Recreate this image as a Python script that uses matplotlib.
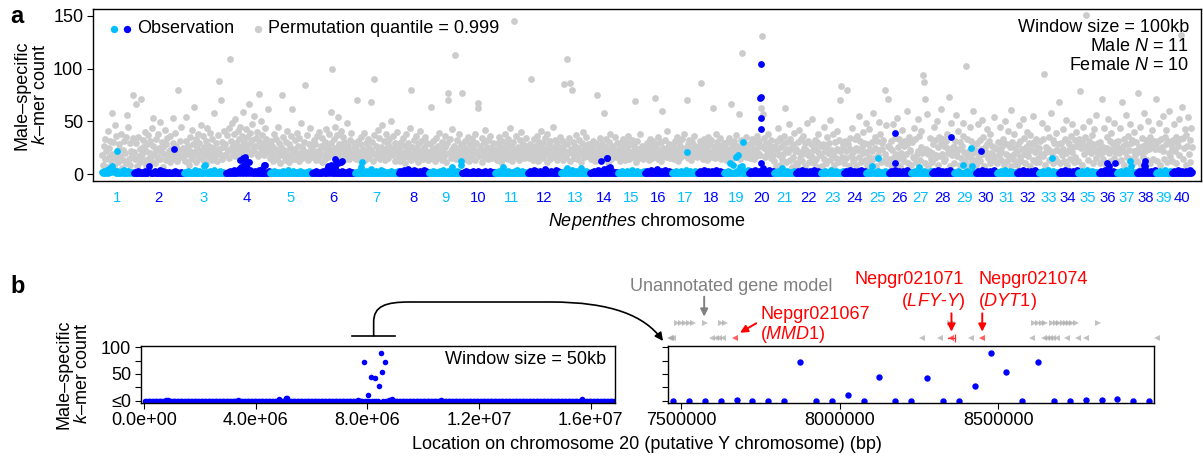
import numpy as np
import matplotlib.pyplot as plt
import matplotlib.transforms as mtrans
from matplotlib.patches import FancyArrowPatch
from matplotlib.path import Path

plt.rcParams['font.family'] = ['Liberation Sans', 'DejaVu Sans']
plt.rcParams['mathtext.fontset'] = 'custom'
plt.rcParams['mathtext.rm'] = 'Liberation Sans'
plt.rcParams['mathtext.it'] = 'Liberation Sans:italic'
plt.rcParams['font.size'] = 13
plt.rcParams['axes.linewidth'] = 1.0

LIGHT = '#00BFFF'
DARK = '#0000FF'
GRAY = '#CCCCCC'

# ---- panel a: genome scan, 100 kb windows ----
chrom_len = [21.1, 34.0, 28.6, 29.9, 29.2, 28.6, 29.9, 20.4, 23.1, 22.4,
             22.4, 22.4, 19.7, 19.0, 18.4, 18.4, 17.7, 17.7, 17.0, 17.0,
             15.0, 17.0, 15.0, 15.6, 15.0, 15.0, 14.3, 15.0, 15.0, 14.3,
             13.6, 15.0, 13.6, 12.9, 14.3, 12.2, 13.6, 12.9, 10.9, 14.3]  # Mb

# permutation quantile (0.999) per window, listed per chromosome
perm_q = [
    "18 9 27 14 33 22 7 41 16 25 31 12 58 19 30 8 46 36 15 21 11 24 28 17 38 6 23 13 31 20 10 35 56 45 14 29 9 22 18 34",
    "75 21 14 66 29 8 35 17 24 11 71 19 32 26 13 40 22 9 28 37 15 20 31 12 44 27 53 18 10 33 23 16 38 25 14 49 21 30 7 26 19 42 13 28 34 17 22 11 36 24 18 53 29 15 39 20 27 12 80 23 31 16 45 19 25",
    "16 24 12 31 54 19 27 9 35 22 14 42 28 17 64 21 33 11 25 38 15 29 19 46 23 13 36 26 18 31 10 44 22 27 16 39 20 13 33 25 58 17 29 21 12 37 24 88 19 70 30 14 26 41 18",
    "28 19 37 23 44 15 109 31 26 48 20 38 17 52 29 24 41 33 18 45 27 36 22 59 30 16 43 25 35 21 66 28 39 19 47 32 24 55 27 34 20 40 17 76 31 26 50 22 37 29 18 44 25 33 21 62 28",
    "22 15 31 19 27 12 38 24 17 33 14 45 21 29 10 26 75 18 35 23 13 30 20 41 16 28 11 25 36 19 62 24 14 32 22 17 39 27 12 34 20 48 15 26 23 30 18 84 21 37 13 28 19 44 24 16",
    "24 17 32 20 28 13 36 22 15 40 19 27 11 34 25 18 30 14 43 21 26 16 38 23 59 29 100 19 33 25 45 18 37 54 22 28 15 41 26 20 35 13 30 24 17 48 21 27 14 32 19 39 23 16 29",
    "19 26 14 70 22 31 16 28 11 35 20 24 17 39 13 29 21 33 15 25 18 68 23 30 12 37 90 19 27 16 42 22 34 14 26 20 46 17 31 24 13 38 21 28 15 33 19 50 25 18 36 22 29 12 27 40 20",
    "17 25 12 30 21 14 34 19 27 10 38 23 16 29 20 44 13 80 26 18 32 22 15 36 24 11 28 19 41 16 31 23 14 26 35 18 22 29 13",
    "20 14 28 18 64 23 31 16 25 12 34 21 27 15 39 19 24 13 30 22 17 36 26 11 29 77 70 20 33 15 24 43 18 27 21 113 14 32 25 17 38 22 28 19",
    "77 18 26 14 31 21 16 35 23 12 28 19 33 15 25 20 38 13 29 22 63 67 17 27 24 11 34 19 30 16 42 22 26 14 32 20 36 18 25 15 29 23 21",
    "16 24 13 29 20 35 18 26 11 31 22 15 38 25 19 28 14 33 21 44 17 27 12 30 24 145 20 36 16 26 23 13 32 19 40 22 28 15 25 18 34 21 27",
    "21 15 28 18 90 25 13 33 20 27 16 36 23 12 30 19 26 41 15 29 22 17 34 24 11 38 20 28 14 31 23 18 45 26 16 32 21 13 29 24 19 35 22",
    "18 26 13 31 85 22 16 28 109 20 34 12 86 24 80 19 30 15 27 21 37 14 25 18 32 23 11 29 20 40 16 26 22 35 17 28 24 19",
    "20 14 27 18 31 23 12 29 16 75 21 25 13 34 19 28 22 15 58 26 17 33 24 11 30 20 38 14 27 21 25 18 35 16 29 22",
    "17 24 12 29 20 15 33 22 26 13 30 18 25 36 14 28 21 19 32 16 23 27 69 11 31 20 24 15 38 22 18 27 14 25 21",
    "22 16 29 19 26 13 33 21 27 15 31 24 18 72 20 28 14 35 23 17 30 12 60 25 19 32 22 16 41 26 20 28 15 24 18",
    "19 27 14 31 22 17 35 24 12 29 20 26 16 33 23 18 38 21 25 70 28 15 32 19 24 13 30 22 36 17 27 21 16 26",
    "24 17 31 20 86 27 14 33 22 18 29 25 13 35 21 28 16 32 19 63 26 23 15 38 20 30 17 27 22 34 14 25 19 29",
    "18 26 13 30 21 16 34 24 19 66 28 22 15 31 25 20 37 17 27 23 57 14 32 26 115 19 29 21 35 16 24 20 28",
    "21 15 28 19 33 24 14 30 22 17 36 26 20 31 18 27 63 131 57 25 34 16 29 23 19 38 21 27 15 32 24 18 26",
    "12 27 8 31 23 44 18 34 9 26 14 29 19 36 63 24 11 30 21 47 13 33 25 7 28 16 39 22 10",
    "24 9 30 21 42 15 33 12 19 36 25 8 29 23 48 18 31 11 20 28 16 52 23 10 32 25 14 30 21 38 7 18 27",
    "19 8 28 14 45 22 10 35 25 20 29 13 51 23 18 38 9 21 30 15 41 24 11 32 22 70 83 16 28",
    "26 10 31 22 15 80 28 8 34 24 17 44 21 12 14 33 25 9 36 23 55 16 31 11 26 40 20 29 13 48",
    "21 9 28 16 43 24 12 30 22 58 15 35 25 8 31 18 49 23 38 11 29 24 32 13 80 19 46 10 27",
    "71 14 25 9 31 23 47 16 34 11 19 53 26 14 33 8 20 29 42 17 27 12 31 19 60 28 10 35 22",
    "23 9 30 16 44 15 33 11 19 52 22 36 13 26 41 20 94 87 10 71 24 57 19 8 22 34 14",
    "20 11 28 45 32 15 18 50 26 9 35 17 29 62 19 33 12 27 14 31 25 38 20 73 8 23 48 18 26",
    "26 10 31 56 22 17 41 24 9 30 15 27 48 36 21 12 102 18 33 8 22 45 16 31 11 60 20 27 13",
    "22 9 29 47 17 32 12 24 51 19 35 8 26 21 43 28 15 31 10 38 20 27 18 54 14 25 11",
    "24 10 30 18 45 22 13 27 33 9 29 50 19 28 12 41 17 26 8 61 30 14 38 19 25 11",
    "21 9 28 46 16 31 12 24 52 19 34 10 26 22 40 17 29 8 37 23 28 13 55 30 21 11 33 26 15",
    "25 11 31 19 48 17 33 95 9 26 21 44 24 13 35 22 58 20 10 32 29 15 39 23 12 28",
    "22 68 10 29 18 43 24 12 33 20 51 9 30 23 28 14 36 21 47 26 11 32 16 40 27",
    "28 12 33 79 25 9 30 45 19 27 35 151 22 13 31 50 26 20 37 10 28 43 24 15 56 21 29",
    "24 10 30 19 71 14 26 44 22 9 35 25 52 20 31 12 39 23 28 15 48 21 30",
    "26 11 31 20 44 24 13 68 27 9 33 21 56 28 16 36 23 47 14 29 32 10 40 22 18 30",
    "23 12 77 26 45 21 9 34 27 16 58 22 32 13 28 50 24 35 10 29 42 26 14 31 24",
    "27 71 12 31 48 24 9 33 26 55 22 14 35 28 42 11 31 20 60 17 28",
    "25 12 32 47 22 35 10 30 27 52 18 33 132 64 14 34 25 43 9 37 27 54 19 32 11 44 26",
]

# observed male-specific k-mer counts per window (one digit per window)
obs_base = [
    "2131241562843213121231412132121",
    "12113121121311282111231121411311211211121312111211",
    "121131211214111312118912113121412111311211",
    "11213121413125176198164143121312141151191213",
    "1211312112111312114121131211211312111211312",
    "112131211213115816914171312113121121311211",
    "12113171211312115121131211413121121131211213",
    "131214131513121413121312141312",
    "1211312112131141211312117121131219",
    "112131211213121131211213121131212",
    "121131217121131211213141211312112",
    "113121413121312115131213121141312",
    "12113161211412131211612113121",
    "1121312141213151216171312112",
    "121131211312114121131211213",
    "113121412131512131214121312",
    "12113121131211412131211312",
    "11312141213121312141213121",
    "1211312119121312718131214",
    "1131214121312161312141213",
    "1211312161211312112131",
    "1131214121312131214121312",
    "1211312114121131211213",
    "11312141213121312141213",
    "1211318121131211213121",
    "1131214121312131214121",
    "121131217121131211213",
    "1131214121312131214121",
    "1211312119121312118121",
    "113121412131213121412",
    "12113121412113121121",
    "1131214121312131214121",
    "12113121141211312112",
    "1131214121312131214",
    "121131211412113121121",
    "113121412181213121",
    "12113121141211812112",
    "1131214181312131214",
    "1211312114121131",
    "113121412131213121412",
]

# windows with counts >= 9: (chromosome, position within chromosome in Mb, count)
obs_peaks = [
    (1, 10.5, 22), (2, 27.9, 24),
    (4, 10.2, 13), (4, 12.0, 15), (4, 13.5, 16), (4, 14.5, 12), (4, 16.0, 11), (4, 26.8, 9),
    (6, 15.7, 14), (6, 16.5, 12), (6, 17.5, 10), (6, 19.5, 11), (6, 20.5, 12),
    (7, 5.4, 11), (9, 22.6, 12),
    (14, 7.5, 12), (14, 11.4, 15), (14, 11.9, 15),
    (17, 10.2, 21),
    (19, 4.1, 10), (19, 8.2, 16), (19, 9.5, 18), (19, 12.9, 30),
    (20, 7.85, 72), (20, 8.05, 10), (20, 8.15, 43), (20, 8.35, 53), (20, 8.45, 104), (20, 8.55, 73),
    (25, 8.2, 15), (26, 4.6, 39), (26, 4.8, 10), (28, 13.4, 35), (29, 12.3, 25), (30, 4.1, 22),
    (33, 9.5, 15), (36, 6.1, 10), (36, 11.5, 10), (37, 9.5, 12), (38, 5.4, 9), (38, 6.1, 12),
]

# ---- panel b: chromosome 20, 50 kb windows ----
chr20_bg = ("0000000000 0000020100 0000000000 0000000000 0000000000 "
            "0000000000 0000000100 0000000000 0000000000 0000003000 "
            "0540000000 0000000000 0000000000 0000000000 0000000000 "
            "0000000000 0000000000 0000000000 0000000000 0000000000 "
            "0000000000 0010000000 0000000000 0000000000 0000000000 "
            "0000000000 0000000000 0000000000 0000000000 0000000000 "
            "0000000000 0003000000 0000000000 0000000")
zoom_first = 149  # first 50 kb window shown in the enlarged view
zoom_counts = [0, 0, 0, 0, 1, 0, 0, 0, 72, 0, 0, 11, 0, 44, 0, 0, 43, 0, 0, 28,
               89, 53, 0, 73, 0, 0, 1, 1, 3, 0, 0]
zoom_range = (7.46e6, 8.99e6)

# gene models (Mb)
genes_fwd = [7.488, 7.500, 7.512, 7.524, 7.539, 7.575, 7.625, 7.640, 8.347, 8.361,
             8.612, 8.624, 8.636, 8.648, 8.670, 8.682, 8.692, 8.703, 8.712, 8.723,
             8.733, 8.745, 8.815]
genes_rev = [7.465, 7.470, 7.474, 7.597, 7.609, 7.621, 7.633, 8.259, 8.316, 8.413,
             8.606, 8.642, 8.654, 8.663, 8.672, 8.684, 8.715, 8.751, 8.775, 8.998]
genes_red = [7.669, 8.352, 8.449]

W, H = 1203, 461
fig = plt.figure(figsize=(W / 100, H / 100), dpi=100)


def fp(x, y):
    return (x / W, 1 - y / H)


# ================= panel a =================
ax = fig.add_axes([93 / W, 1 - 181 / H, 1108 / W, 172 / H])
lens = np.array(chrom_len)
starts = np.concatenate([[0], np.cumsum(lens)[:-1]])
perm_vals = [np.array(s.split(), float) for s in perm_q]
obs_vals = [np.array([int(c) for c in s], float) for s in obs_base]
MS = 4.9

for i, L in enumerate(lens):
    g = perm_vals[i]
    xg = starts[i] + (np.arange(len(g)) + 0.5) / len(g) * L
    ax.plot(xg, g, 'o', ms=MS, mew=0, color=GRAY, zorder=1)
for i, L in enumerate(lens):
    o = obs_vals[i]
    xo = starts[i] + (np.arange(len(o)) + 0.5) / len(o) * L
    ax.plot(xo, o, 'o', ms=MS, mew=0, color=LIGHT if i % 2 == 0 else DARK, zorder=2)
for c, pos, v in obs_peaks:
    ax.plot(starts[c - 1] + pos, v, 'o', ms=MS, mew=0,
            color=LIGHT if (c - 1) % 2 == 0 else DARK, zorder=3)

ax.set_xlim(-6.1, 747.3)
ax.set_ylim(-6.6, 156.4)
ax.set_yticks([0, 50, 100, 150])
ax.set_xticks([])
ax.tick_params(axis='y', direction='out', length=4, width=0.8, pad=3, labelsize=13)

blend = mtrans.blended_transform_factory(ax.transData, ax.transAxes)
for i, L in enumerate(lens):
    ax.text(starts[i] + L / 2, -0.099, str(i + 1), transform=blend, ha='center',
            va='center', fontsize=10.7, color=LIGHT if i % 2 == 0 else DARK)

# legend
ax.plot([0.019], [0.884], 'o', ms=5.3, mew=0, color=LIGHT, transform=ax.transAxes)
ax.plot([0.0307], [0.884], 'o', ms=5.3, mew=0, color=DARK, transform=ax.transAxes)
ax.text(0.0397, 0.884, 'Observation', transform=ax.transAxes, va='center', fontsize=13)
ax.plot([0.1489], [0.884], 'o', ms=5.3, mew=0, color=GRAY, transform=ax.transAxes)
ax.text(0.1579, 0.884, 'Permutation quantile = 0.999', transform=ax.transAxes,
        va='center', fontsize=13)

ax.text(0.989, 0.891, 'Window size = 100kb', transform=ax.transAxes, ha='right', va='center')
ax.text(0.989, 0.781, r'Male $\mathit{N}$ = 11', transform=ax.transAxes, ha='right', va='center')
ax.text(0.989, 0.674, r'Female $\mathit{N}$ = 10', transform=ax.transAxes, ha='right', va='center')

fig.text(*fp(647, 221), r'$\mathit{Nepenthes}$ chromosome', ha='center', va='center', fontsize=13)
fig.text(*fp(31, 95), 'Male–specific\n$\\mathit{k}$–mer count', rotation=90, ha='center',
         va='center', multialignment='center', linespacing=1.1, fontsize=13)
fig.text(*fp(10, 23), 'a', fontsize=17, fontweight='bold', va='baseline')

# ================= panel b, left =================
bg = np.array([int(c) for c in chr20_bg.replace(' ', '')], float)
counts20 = bg.copy()
counts20[zoom_first:zoom_first + len(zoom_counts)] = zoom_counts
pos20 = 0.025e6 + 0.05e6 * np.arange(len(counts20))

axl = fig.add_axes([140.7 / W, 1 - 402.7 / H, 474.3 / W, 57 / H])
axl.plot(pos20, counts20, 'o', ms=4.0, mew=0, color=DARK)
axl.set_xlim(-1.2e5, 1.687e7)
axl.set_ylim(-4, 103)
axl.set_yticks([0, 25, 50, 75, 100])
axl.set_yticklabels(['≤0', '', '50', '', '100'])
axl.set_xticks([0, 4e6, 8e6, 1.2e7, 1.6e7])
axl.set_xticklabels(['0.0e+00', '4.0e+06', '8.0e+06', '1.2e+07', '1.6e+07'])
axl.tick_params(direction='out', length=4, width=0.8, pad=3, labelsize=13)
axl.text(0.981, 0.75, 'Window size = 50kb', transform=axl.transAxes, ha='right', va='center')

# zoom bracket
bl = mtrans.blended_transform_factory(axl.transData, axl.transAxes)
mid = (zoom_range[0] + zoom_range[1]) / 2
axl.plot([zoom_range[0], zoom_range[1]], [1.175, 1.175], color='k', lw=1.2,
         transform=bl, clip_on=False)

fig.text(*fp(73, 374), 'Male–specific\n$\\mathit{k}$–mer count', rotation=90, ha='center',
         va='center', multialignment='center', linespacing=1.1, fontsize=13)
fig.text(*fp(10, 293), 'b', fontsize=17, fontweight='bold', va='baseline')
fig.text(*fp(647, 444), 'Location on chromosome 20 (putative Y chromosome) (bp)',
         ha='center', va='center', fontsize=13)

# ================= panel b, right =================
axr = fig.add_axes([668.3 / W, 1 - 402.7 / H, 485.7 / W, 57 / H])
zpos = pos20[zoom_first:zoom_first + len(zoom_counts)]
axr.plot(zpos, zoom_counts, 'o', ms=4.6, mew=0, color=DARK)
axr.set_xlim(*zoom_range)
axr.set_ylim(-4, 103)
axr.set_yticks([0, 25, 50, 75, 100])
axr.set_yticklabels([])
axr.set_xticks([7.5e6, 8.0e6, 8.5e6])
axr.set_xticklabels(['7500000', '8000000', '8500000'])
axr.tick_params(direction='out', length=4, width=0.8, pad=3, labelsize=13)

tr = mtrans.blended_transform_factory(axr.transData, axr.transAxes)
gcol = '#A8A8A8'
axr.plot(np.array(genes_fwd) * 1e6, [1.393] * len(genes_fwd), '>', ms=4.2, mew=0,
         color=gcol, alpha=0.7, transform=tr, clip_on=False)
axr.plot(np.array(genes_rev) * 1e6, [1.13] * len(genes_rev), '<', ms=4.2, mew=0,
         color=gcol, alpha=0.7, transform=tr, clip_on=False)
axr.plot(np.array(genes_red) * 1e6, [1.13] * len(genes_red), '<', ms=4.2, mew=0,
         color='#FF6060', transform=tr, clip_on=False)
axr.plot([8.340e6, 8.364e6], [1.13, 1.13], color='#FF3030', lw=0.9, transform=tr, clip_on=False)
axr.plot([8.364e6], [1.13], '|', ms=6, mew=0.9, color='#FF3030', transform=tr, clip_on=False)

arr = dict(arrowstyle='-|>', lw=1.4, mutation_scale=11, shrinkA=0, shrinkB=0)
axr.annotate('', xy=(7.573e6, 1.51), xytext=(7.573e6, 1.86), xycoords=tr, textcoords=tr,
             arrowprops=dict(color='#808080', **arr), annotation_clip=False)
axr.text(7.658e6, 2.035, 'Unannotated gene model', transform=tr, ha='center', va='center',
         color='#808080', fontsize=13)
axr.annotate('', xy=(7.686e6, 1.228), xytext=(7.737e6, 1.393), xycoords=tr, textcoords=tr,
             arrowprops=dict(color='red', **arr), annotation_clip=False)
axr.text(7.749e6, 1.539, 'Nepgr021067', transform=tr, ha='left', va='center', color='red')
axr.text(7.749e6, 1.188, r'($\mathit{MMD1}$)', transform=tr, ha='left', va='center', color='red')
for gx in genes_red[1:]:
    axr.annotate('', xy=(gx * 1e6, 1.246), xytext=(gx * 1e6, 1.568), xycoords=tr, textcoords=tr,
                 arrowprops=dict(color='red', **arr), annotation_clip=False)
axr.text(8.392e6, 2.153, 'Nepgr021071', transform=tr, ha='right', va='center', color='red')
axr.text(8.395e6, 1.772, r'($\mathit{LFY}$-$\mathit{Y}$)', transform=tr, ha='right',
         va='center', color='red')
axr.text(8.437e6, 2.153, 'Nepgr021074', transform=tr, ha='left', va='center', color='red')
axr.text(8.437e6, 1.772, r'($\mathit{DYT1}$)', transform=tr, ha='left', va='center', color='red')

# connector from bracket to enlarged view
bx = fig.transFigure.inverted().transform(axl.transData.transform((mid, 0)))[0] * W
verts = [fp(bx, 335.7), fp(bx, 322), fp(bx, 306), fp(bx + 12, 302), fp(bx + 36, 302),
         fp(550, 302), fp(612, 302), fp(645, 316), fp(663, 341)]
codes = [Path.MOVETO, Path.LINETO, Path.CURVE4, Path.CURVE4, Path.CURVE4,
         Path.LINETO, Path.CURVE4, Path.CURVE4, Path.CURVE4]
conn = FancyArrowPatch(path=Path(verts, codes), arrowstyle='-|>', mutation_scale=12,
                       lw=1.2, color='k', transform=fig.transFigure)
fig.add_artist(conn)

fig.savefig('out.png', dpi=100)
